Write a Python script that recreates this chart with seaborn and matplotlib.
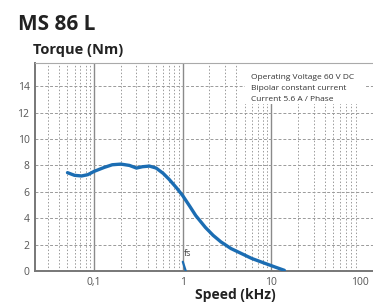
import matplotlib
matplotlib.use("Agg")
import matplotlib.pyplot as plt
import seaborn as sns
import numpy as np
import pandas as pd
from matplotlib.patches import Rectangle
from matplotlib.ticker import FixedLocator, NullFormatter

# torque curve (speed in kHz, torque in Nm)
speed_khz = [0.05, 0.06, 0.072, 0.085, 0.1, 0.13, 0.16, 0.2, 0.25, 0.3, 0.35,
             0.42, 0.5, 0.6, 0.7, 0.85, 1.0, 1.2, 1.4, 1.8, 2.2, 2.7, 3.5,
             4.5, 6.0, 8.3, 11.0, 14.0]
torque_nm = [7.45, 7.25, 7.2, 7.3, 7.55, 7.85, 8.05, 8.1, 8.0, 7.8, 7.9,
             7.95, 7.8, 7.4, 6.95, 6.3, 5.7, 4.9, 4.2, 3.3, 2.7, 2.2, 1.7,
             1.35, 0.95, 0.6, 0.3, 0.05]

# start/stop frequency marker
fs_speed = [1.0, 1.08]
fs_torque = [0.7, 0.0]

y_ticks = [0, 2, 4, 6, 8, 10, 12, 14]
x_ticks = [0.1, 1, 10, 100]
x_tick_labels = ["0,1", "1", "10", "100"]
notes = ["Operating Voltage 60 V DC", "Bipolar constant current",
         "Current 5.6 A / Phase"]

sns.set_style("white")
plt.rcParams["font.family"] = ["Open Sans", "DejaVu Sans"]

W, H = 373, 303
fig = plt.figure(figsize=(W / 100, H / 100), dpi=100)
ax = fig.add_axes([35 / W, 1 - 271 / H, 1 - 35 / W, (271 - 63) / H])

curve = pd.DataFrame({"speed": speed_khz, "torque": torque_nm})
sns.lineplot(data=curve, x="speed", y="torque", ax=ax, color="#1b6db3",
             linewidth=2.4, sort=False, zorder=3)
sns.lineplot(x=fs_speed, y=fs_torque, ax=ax, color="#1b6db3",
             linewidth=1.6, sort=False, zorder=3)

ax.set_xscale("log")
ax.set_xlim(0.0215, 140)
ax.set_ylim(0, 15.76)

grid_col = "#9a9a9a"
ax.xaxis.set_major_locator(FixedLocator(x_ticks))
ax.xaxis.set_minor_locator(FixedLocator(
    [m * 10.0 ** e for e in range(-2, 3) for m in range(2, 10)]))
ax.xaxis.set_minor_formatter(NullFormatter())
ax.set_xticks(x_ticks)
ax.set_xticklabels(x_tick_labels)
ax.set_yticks(y_ticks)

for xv in [0.1, 1, 10]:
    ax.axvline(xv, color="#8a8a8a", lw=1.0, zorder=0.6)
ax.grid(which="minor", axis="x", color=grid_col, ls=(0, (1.5, 2)), lw=0.7)
for yv in y_ticks[1:]:
    ax.axhline(yv, color=grid_col, lw=0.7, ls=(0, (3, 2)), zorder=0.6)

# white panel behind the operating notes
ax.add_patch(Rectangle(((245 - 35) / 338, (271 - 104) / 208), 120 / 338,
                       0.25, transform=ax.transAxes, facecolor="white",
                       edgecolor="none", zorder=1.5))

ax.tick_params(axis="both", which="both", length=0, labelsize=7.5,
               labelcolor="#555555", pad=4)
ax.spines["right"].set_visible(False)
for side in ["left", "bottom"]:
    ax.spines[side].set_color("#777777")
    ax.spines[side].set_linewidth(1.4)
ax.spines["top"].set_color("#aaaaaa")
ax.spines["top"].set_linewidth(0.8)
ax.set_xlabel("")
ax.set_ylabel("")

ax.text(1.02, 1.1, "fs", fontsize=6.5, color="#444444")

for i, line in enumerate(notes):
    fig.text(251 / W, 1 - (77 + 11 * i) / H, line, fontsize=6,
             color="#333333", va="center", ha="left")

fig.text(18 / W, 1 - 30 / H, "MS 86 L", fontsize=15, fontweight="bold",
         color="#222222", va="baseline")
fig.text(33 / W, 1 - 54 / H, "Torque (Nm)", fontsize=10.5, fontweight="bold",
         color="#222222", va="baseline")
fig.text(235 / W, 1 - 299 / H, "Speed (kHz)", fontsize=10,
         fontweight="bold", color="#222222", va="baseline", ha="center")

fig.savefig("out.png", dpi=100)
